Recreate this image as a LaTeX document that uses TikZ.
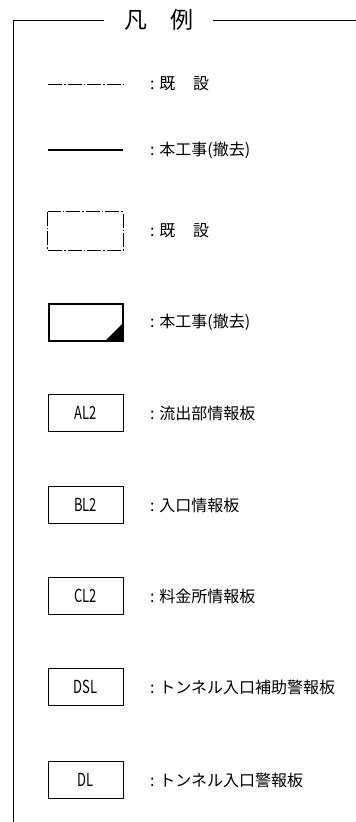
\documentclass[tikz,border=0pt]{standalone}
\usepackage{fontspec}
\setmainfont{Noto Sans CJK JP}
\begin{document}
\begin{tikzpicture}[x=1pt,y=-1pt,
  frame/.style={line width=1pt},
  dd/.style={line width=0.9pt,dash pattern=on 14pt off 2pt on 1.5pt off 2pt},
  thick line/.style={line width=2pt},
  signbox/.style={draw,line width=0.8pt,minimum width=75pt,minimum height=37pt,inner sep=0pt,font=\fontsize{18}{18}\selectfont},
  lbl/.style={anchor=west,inner sep=0pt,font=\fontsize{16}{16}\selectfont}]
\useasboundingbox (0,0) rectangle (356,822);
% frame
\node[inner sep=0pt,font=\fontsize{23}{23}\selectfont] (title) at (159,20) {凡\hspace{1em}例};
\coordinate (tl) at (13,20);
\coordinate (bl) at (13,822);
\coordinate (tlx) at (104,20);
\coordinate (trx) at (213,20);
\coordinate (tr) at (356,20);
\draw[frame] (bl) -- (tl) -- (tlx);
\draw[frame] (trx) -- (tr);
% row 1
\coordinate (a1) at (48,84);
\coordinate (a2) at (123,84);
\draw[dd] (a1) -- (a2);
\node[lbl] (l1) at (150,84) {:\hspace{0.3em}既\hspace{1.1em}設};
% row 2
\coordinate (b1) at (48,150);
\coordinate (b2) at (123,150);
\draw[thick line] (b1) -- (b2);
\node[lbl] (l2) at (150,150) {:\hspace{0.3em}本工事(撤去)};
% row 3
\node[draw=none,minimum width=75pt,minimum height=38pt,inner sep=0pt] (r3) at (85.5,231) {};
\draw[dd,line width=0.8pt] (r3.north west) rectangle (r3.south east);
\node[lbl] (l3) at (150,231) {:\hspace{0.3em}既\hspace{1.1em}設};
% row 4
\node[draw,line width=2pt,minimum width=74pt,minimum height=37pt,inner sep=0pt] (r4) at (85.5,322) {};
\fill ([xshift=-19pt]r4.south east) -- (r4.south east) -- ([yshift=19pt]r4.south east) -- cycle;
\node[lbl] (l4) at (150,322) {:\hspace{0.3em}本工事(撤去)};
% sign boxes
\node[signbox] (al) at (85.5,413) {\scalebox{0.72}[1]{AL2}};
\node[lbl] (lal) at (150,413) {:\hspace{0.3em}流出部情報板};
\node[signbox] (bl2) at (85.5,505) {\scalebox{0.72}[1]{BL2}};
\node[lbl] (lbl2) at (150,505) {:\hspace{0.3em}入口情報板};
\node[signbox] (cl) at (85.5,596) {\scalebox{0.72}[1]{CL2}};
\node[lbl] (lcl) at (150,596) {:\hspace{0.3em}料金所情報板};
\node[signbox] (dsl) at (85.5,687) {\scalebox{0.72}[1]{DSL}};
\node[lbl] (ldsl) at (150,687) {:\hspace{0.3em}トンネル入口補助警報板};
\node[signbox] (dl) at (85.5,780) {\scalebox{0.72}[1]{DL}};
\node[lbl] (ldl) at (150,780) {:\hspace{0.3em}トンネル入口警報板};
\end{tikzpicture}
\end{document}
